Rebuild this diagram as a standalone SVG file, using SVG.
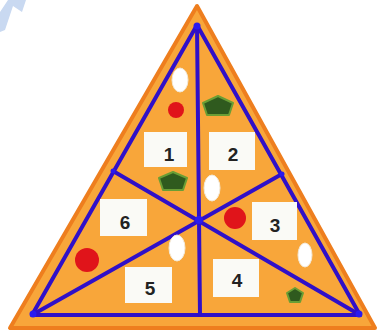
<svg xmlns="http://www.w3.org/2000/svg" width="380" height="331" viewBox="0 0 380 331">
<style>
.lbl{fill:#FAFAF6}
.num{font-family:"Liberation Sans",Arial,sans-serif;font-weight:bold;font-size:19px;fill:#222;text-anchor:middle}
.oval{fill:#FFFFFF;stroke:#F2E9D8;stroke-width:1}
.red{fill:#E0141A}
.pent{fill:#2F5A1E;stroke:#6A9E35;stroke-width:2;stroke-linejoin:round}
.ln{stroke:#3010C8;stroke-width:4;fill:none;stroke-linecap:round;stroke-linejoin:round}
</style>
<rect width="380" height="331" fill="#FFFFFF"/>
<polygon points="8,0 26,0 22,12 13,6 5,30 0,32 0,12" fill="#C9D9F1"/>
<g id="triangle">
<polygon points="197,6 10,328 375,328" fill="#F8A63A" stroke="#EE7E1E" stroke-width="4" stroke-linejoin="round"/>
</g>
<g id="connectors">
<polygon class="ln" points="197,25 32,315 360,315"/>
<line class="ln" x1="197" y1="25" x2="200" y2="315"/>
<line class="ln" x1="113" y1="171" x2="360" y2="315"/>
<line class="ln" x1="282" y1="174" x2="32" y2="315"/>
<circle cx="199" cy="220" r="4" fill="#2A1AF0"/>
<circle cx="197" cy="26" r="3.5" fill="#2A1AF0"/>
<circle cx="33" cy="314" r="3.5" fill="#2A1AF0"/>
<circle cx="359" cy="314" r="3.5" fill="#2A1AF0"/>
<circle cx="113" cy="171" r="2.5" fill="#2A1AF0"/>
<circle cx="282" cy="174" r="2.5" fill="#2A1AF0"/>
</g>
<g id="decor">
<ellipse class="oval" cx="180" cy="80" rx="8" ry="12"/>
<ellipse class="oval" cx="212" cy="188" rx="8" ry="13"/>
<ellipse class="oval" cx="305" cy="255" rx="7" ry="12"/>
<ellipse class="oval" cx="177" cy="248" rx="8" ry="13"/>
<circle class="red" cx="176" cy="110" r="8"/>
<circle class="red" cx="235" cy="218" r="11"/>
<circle class="red" cx="87" cy="260" r="12"/>
<polygon class="pent" points="218,96 233,103 229,115 207,115 203,103"/>
<polygon class="pent" points="173,172 187,178 183,190 163,190 159,178"/>
<polygon class="pent" points="295,288 303,293 300,302 290,302 287,293"/>
</g>
<g id="node1"><rect class="lbl" x="144" y="132" width="43" height="35"/><text class="num" x="169" y="161">1</text></g>
<g id="node2"><rect class="lbl" x="209" y="132" width="46" height="38"/><text class="num" x="233" y="161">2</text></g>
<g id="node3"><rect class="lbl" x="252" y="202" width="45" height="38"/><text class="num" x="275" y="232">3</text></g>
<g id="node4"><rect class="lbl" x="213" y="259" width="46" height="38"/><text class="num" x="237" y="287">4</text></g>
<g id="node5"><rect class="lbl" x="125" y="267" width="47" height="36"/><text class="num" x="150" y="295">5</text></g>
<g id="node6"><rect class="lbl" x="100" y="199" width="47" height="37"/><text class="num" x="125" y="229">6</text></g>
</svg>
